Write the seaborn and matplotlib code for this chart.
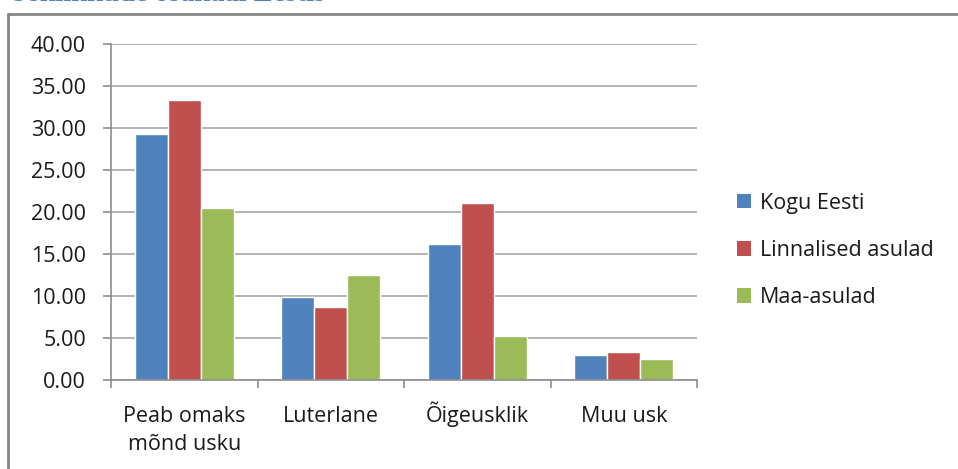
import seaborn as sns
import pandas as pd
import matplotlib.pyplot as plt
from matplotlib.patches import Patch
from matplotlib.lines import Line2D
from matplotlib.transforms import ScaledTranslation

# Data
categories = ["Peab omaks\nmõnd usku", "Luterlane", "Õigeusklik", "Muu usk"]
kogu_eesti = [29.3, 9.9, 16.15, 3.0]
linnalised = [33.3, 8.65, 21.05, 3.3]
maa_asulad = [20.45, 12.45, 5.25, 2.5]
series_names = ["Kogu Eesti", "Linnalised asulad", "Maa-asulad"]
y_ticks = [0, 5, 10, 15, 20, 25, 30, 35, 40]
title = "Usklikkude osakaal Eestis"

colors = ["#4F81BD", "#C0504D", "#9BBB59"]
font_size = 15.5


def create_chart():
    df = pd.DataFrame({
        "category": categories * 3,
        "value": kogu_eesti + linnalised + maa_asulad,
        "series": [series_names[0]] * 4 + [series_names[1]] * 4 + [series_names[2]] * 4,
    })

    sns.set_theme(style="white")
    plt.rcParams["font.family"] = ["Open Sans", "DejaVu Sans"]

    fig = plt.figure(figsize=(9.58, 4.69), dpi=100)
    ax = fig.add_axes([0.1159, 0.1898, 0.6117, 0.7164])

    sns.barplot(data=df, x="category", y="value", hue="series",
                palette=colors, width=0.675, saturation=1, legend=False, ax=ax)

    # Axis styling similar to the spreadsheet chart
    ax.set_xlim(-0.5, 3.5)
    ax.set_ylim(0, 40)
    ax.set_yticks(y_ticks)
    ax.set_yticklabels([f"{t:.2f}" for t in y_ticks])
    ax.set_xlabel("")
    ax.set_ylabel("")
    ax.yaxis.grid(True, color="#A6A6A6", linewidth=1.2)
    ax.set_axisbelow(True)
    for side in ["top", "right"]:
        ax.spines[side].set_visible(False)
    for side in ["left", "bottom"]:
        ax.spines[side].set_color("#8C8C8C")
        ax.spines[side].set_linewidth(1.2)

    # Category ticks sit between the groups
    ax.set_xticks([-0.5, 0.5, 1.5, 2.5, 3.5], minor=False)
    ax.set_xticklabels([])
    ax.set_xticks([0, 1, 2, 3], minor=True)
    ax.tick_params(axis="x", which="major", length=6, width=1.2, color="#8C8C8C",
                   direction="out", bottom=True)
    ax.tick_params(axis="x", which="minor", length=0, pad=30)
    ax.tick_params(axis="y", length=6, width=1.2, color="#8C8C8C", direction="out",
                   left=True, labelsize=font_size, labelcolor="#1A1A1A", pad=12)
    ax.set_xticklabels(categories, minor=True, fontsize=font_size, color="#1A1A1A",
                       linespacing=1.4)

    # align all category names on the first-line baseline
    # (baseline of a multi-line text is its last line, so push it down)
    line_pitch = 28 / 100
    for lbl in ax.get_xticklabels(minor=True):
        lbl.set_verticalalignment("baseline")
        n_extra = lbl.get_text().count("\n")
        if n_extra:
            lbl.set_transform(lbl.get_transform() +
                              ScaledTranslation(0, -line_pitch * n_extra,
                                                fig.dpi_scale_trans))

    # Legend on the right
    handles = [Patch(facecolor=c, edgecolor="none") for c in colors]
    fig.legend(handles, series_names, loc="center left",
               bbox_to_anchor=(0.7585, 0.466), frameon=False, fontsize=font_size,
               handlelength=0.65, handleheight=0.65, handletextpad=0.4,
               labelspacing=1.22, borderpad=0, labelcolor="#1A1A1A")

    # Outer chart frame (top and left edges visible) and cut-off heading
    fig.add_artist(Line2D([8 / 958, 1.0], [1 - 14 / 469, 1 - 14 / 469],
                          color="#868686", linewidth=2, transform=fig.transFigure))
    fig.add_artist(Line2D([8 / 958, 8 / 958], [0.0, 1 - 14 / 469],
                          color="#868686", linewidth=2, transform=fig.transFigure))
    fig.text(8 / 958, 1 - 1 / 469, title, family="Liberation Serif",
             fontweight="bold", fontsize=20.5, color="#4F81BD", va="baseline")

    plt.savefig("out.png", dpi=100)


if __name__ == "__main__":
    create_chart()
